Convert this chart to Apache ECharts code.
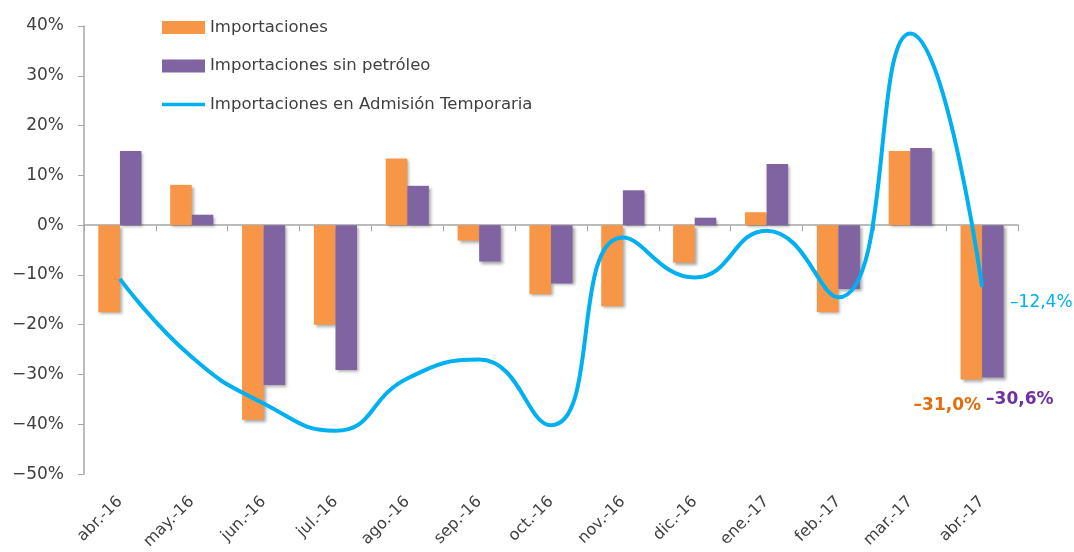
<!DOCTYPE html>
<html>
<head>
<meta charset="utf-8">
<script src="https://cdn.jsdelivr.net/npm/echarts@6/dist/echarts.min.js"></script>
<style>
  html, body {margin: 0; padding: 0; background: #fff;}
  #chart {width: 1074px; height: 552px;}
</style>
</head>
<body>
<div id="chart"></div>
<script>
/*datos del grafico (variacion %)*/
var categorias = ['abr.-16', 'may.-16', 'jun.-16', 'jul.-16', 'ago.-16', 'sep.-16', 'oct.-16', 'nov.-16', 'dic.-16', 'ene.-17', 'feb.-17', 'mar.-17', 'abr.-17'];
var importaciones = [-17.5, 8.1, -39.1, -20.0, 13.4, -3.1, -13.9, -16.3, -7.5, 2.6, -17.5, 14.9, -31.0];
var sinPetroleo = [14.9, 2.1, -32.1, -29.1, 7.9, -7.3, -11.7, 7.0, 1.5, 12.3, -12.8, 15.5, -30.6];
var admTemporaria = [-10.8, -26.5, -35.8, -41.3, -30.8, -27.0, -40.2, -2.5, -10.5, -1.1, -14.5, 38.5, -12.4];
var nombres = ['Importaciones', 'Importaciones sin petróleo', 'Importaciones en Admisión Temporaria'];

var fuente = 'DejaVu Sans';
var gris = '#a6a6a6';

//formato 12,4%
function fmt(v) {
  return (v < 0 ? '–' : '') + Math.abs(v).toFixed(1).replace('.', ',') + '%';
}

//solo el ultimo punto lleva etiqueta
function conEtiqueta(arr, label) {
  return arr.map(function (v, i) {
    if (i == arr.length - 1) {
      return {value: v, label: label};
    }
    return v;
  });
}

//barras con sombra
function estiloBarra(color) {
  return {
    color: color,
    shadowColor: 'rgba(0,0,0,0.35)',
    shadowBlur: 3,
    shadowOffsetX: 2,
    shadowOffsetY: 2
  };
}

var option = {
  animation: false,
  grid: {left: 84, right: 56, top: 26, bottom: 76, containLabel: false},
  legend: {
    orient: 'vertical',
    left: 162,
    top: 19,
    padding: 0,
    itemWidth: 43,
    itemHeight: 13,
    itemGap: 21.5,
    textStyle: {fontFamily: fuente, fontSize: 16.5, color: '#404040'},
    data: [
      {name: nombres[0], icon: 'rect'},
      {name: nombres[1], icon: 'rect'},
      //linea gruesa sin simbolo
      {name: nombres[2], icon: 'path://M0,0M43,13M0,4.8H43V8.2H0Z', itemStyle: {color: '#00b0f0'}}
    ]
  },
  xAxis: [{
    type: 'category',
    data: categorias,
    position: 'bottom',
    axisLine: {show: true, onZero: true, lineStyle: {color: gris, width: 1.5}},
    axisTick: {show: true, length: 6, lineStyle: {color: gris}},
    axisLabel: {show: false}
  }, {
    type: 'category',
    data: categorias,
    position: 'bottom',
    axisLine: {show: false, onZero: false},
    axisTick: {show: false},
    axisLabel: {rotate: 45, margin: 25, fontFamily: fuente, fontSize: 16, color: '#404040'}
  }],
  yAxis: {
    type: 'value',
    min: -50,
    max: 40,
    interval: 10,
    splitLine: {show: false},
    axisLine: {show: true, lineStyle: {color: gris, width: 1.5}},
    axisTick: {show: true, length: 6, lineStyle: {color: gris}},
    axisLabel: {
      margin: 20,
      fontFamily: fuente,
      fontSize: 17,
      color: '#404040',
      formatter: function (v) {
        return (v < 0 ? '−' + (-v) : v) + '%';
      }
    }
  },
  series: [{
    name: nombres[0],
    type: 'bar',
    barGap: '0%',
    barCategoryGap: '40%',
    itemStyle: estiloBarra('#f79646'),
    data: conEtiqueta(importaciones, {
      show: true, position: 'bottom', offset: [-24, 13],
      fontFamily: fuente, fontSize: 17, fontWeight: 'bold', color: '#e46c0a',
      formatter: function (p) { return fmt(p.value); }
    })
  }, {
    name: nombres[1],
    type: 'bar',
    itemStyle: estiloBarra('#8064a2'),
    data: conEtiqueta(sinPetroleo, {
      show: true, position: 'bottom', offset: [27, 9],
      fontFamily: fuente, fontSize: 17, fontWeight: 'bold', color: '#7030a0',
      formatter: function (p) { return fmt(p.value); }
    })
  }, {
    name: nombres[2],
    type: 'line',
    smooth: 0.5,
    symbol: 'none',
    lineStyle: {color: '#00b0f0', width: 4},
    itemStyle: {color: '#00b0f0'},
    z: 5,
    data: admTemporaria,
    endLabel: {
      show: true, offset: [20, 16],
      fontFamily: fuente, fontSize: 17, fontWeight: 500, color: '#00b0f0',
      formatter: function (p) { return fmt(p.value); }
    }
  }]
};

var chart = echarts.init(document.getElementById('chart'));
chart.setOption(option);
</script>
</body>
</html>
